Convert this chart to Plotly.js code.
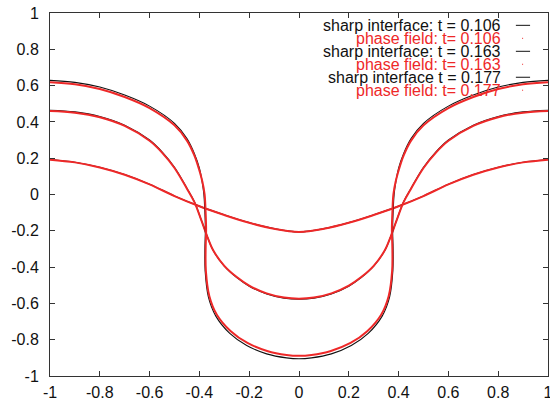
<!DOCTYPE html>
<html>
<head>
<meta charset="utf-8">
<script src="https://cdn.plot.ly/plotly-3.0.1.min.js"></script>
<style>
  body { margin: 0; padding: 0; background: #fff; }
  #graph { width: 550px; height: 404px; }
</style>
</head>
<body>
<div id="graph"></div>
<script>
// values, each curve runs left to right (x, y pairs)
var sharpX106 = [-1, -0.9, -0.8, -0.7, -0.6, -0.5, -0.4, -0.3, -0.2, -0.1, 0, 0.1, 0.2, 0.3, 0.4, 0.5, 0.6, 0.7, 0.8, 0.9, 1];
var sharpY106 = [0.193, 0.178, 0.15, 0.11, 0.057, -0.008, -0.064, -0.112, -0.155, -0.188, -0.206, -0.188, -0.155, -0.112, -0.064, -0.008, 0.057, 0.11, 0.15, 0.178, 0.193];
var phaseX106 = [-1, -0.9, -0.8, -0.7, -0.6, -0.5, -0.4, -0.3, -0.2, -0.1, 0, 0.1, 0.2, 0.3, 0.4, 0.5, 0.6, 0.7, 0.8, 0.9, 1];
var phaseY106 = [0.192, 0.177, 0.149, 0.109, 0.056, -0.009, -0.065, -0.113, -0.156, -0.189, -0.206, -0.189, -0.156, -0.113, -0.065, -0.009, 0.056, 0.109, 0.149, 0.177, 0.192];

var sharpX163 = [-1, -0.9, -0.8, -0.7, -0.6, -0.55, -0.5, -0.45, -0.42, -0.392, -0.368, -0.344, -0.3, -0.25, -0.2, -0.13, -0.06, 0,
                 0.06, 0.13, 0.2, 0.25, 0.3, 0.344, 0.368, 0.392, 0.42, 0.45, 0.5, 0.55, 0.6, 0.7, 0.8, 0.9, 1];
var sharpY163 = [0.464, 0.455, 0.43, 0.382, 0.3, 0.235, 0.15, 0.035, -0.04, -0.142, -0.233, -0.31, -0.395, -0.458, -0.505, -0.548, -0.571, -0.577,
                 -0.571, -0.548, -0.505, -0.458, -0.395, -0.31, -0.233, -0.142, -0.04, 0.035, 0.15, 0.235, 0.3, 0.382, 0.43, 0.455, 0.464];
var phaseX163 = [-1, -0.9, -0.8, -0.7, -0.6, -0.55, -0.5, -0.45, -0.42, -0.392, -0.368, -0.344, -0.3, -0.25, -0.2, -0.13, -0.06, 0,
                 0.06, 0.13, 0.2, 0.25, 0.3, 0.344, 0.368, 0.392, 0.42, 0.45, 0.5, 0.55, 0.6, 0.7, 0.8, 0.9, 1];
var phaseY163 = [0.46, 0.451, 0.426, 0.378, 0.296, 0.231, 0.146, 0.032, -0.042, -0.143, -0.233, -0.309, -0.393, -0.455, -0.502, -0.545, -0.568, -0.574,
                 -0.568, -0.545, -0.502, -0.455, -0.393, -0.309, -0.233, -0.143, -0.042, 0.032, 0.146, 0.231, 0.296, 0.378, 0.426, 0.451, 0.46];

var sharpX177 = [-1, -0.9, -0.8, -0.7, -0.6, -0.5, -0.45, -0.42, -0.4, -0.39, -0.382, -0.378, -0.376, -0.378, -0.377, -0.364, -0.334, -0.278, -0.21, -0.13, -0.05, 0,
                 0.05, 0.13, 0.21, 0.278, 0.334, 0.364, 0.377, 0.378, 0.376, 0.378, 0.382, 0.39, 0.4, 0.42, 0.45, 0.5, 0.6, 0.7, 0.8, 0.9, 1];
var sharpY177 = [0.629, 0.618, 0.592, 0.548, 0.487, 0.392, 0.308, 0.225, 0.145, 0.079, 0.0, -0.1, -0.195, -0.3, -0.42, -0.564, -0.67, -0.765, -0.832, -0.878, -0.9, -0.905,
                 -0.9, -0.878, -0.832, -0.765, -0.67, -0.564, -0.42, -0.3, -0.195, -0.1, 0.0, 0.079, 0.145, 0.225, 0.308, 0.392, 0.487, 0.548, 0.592, 0.618, 0.629];
var phaseX177 = [-1, -0.9, -0.8, -0.7, -0.6, -0.5, -0.45, -0.42, -0.4, -0.388, -0.379, -0.375, -0.373, -0.375, -0.374, -0.36, -0.33, -0.274, -0.207, -0.128, -0.05, 0,
                 0.05, 0.128, 0.207, 0.274, 0.33, 0.36, 0.374, 0.375, 0.373, 0.375, 0.379, 0.388, 0.4, 0.42, 0.45, 0.5, 0.6, 0.7, 0.8, 0.9, 1];
var phaseY177 = [0.618, 0.607, 0.581, 0.537, 0.476, 0.381, 0.297, 0.214, 0.132, 0.07, 0.0, -0.1, -0.195, -0.3, -0.42, -0.56, -0.662, -0.753, -0.818, -0.862, -0.884, -0.889,
                 -0.884, -0.862, -0.818, -0.753, -0.662, -0.56, -0.42, -0.3, -0.195, -0.1, 0.0, 0.07, 0.132, 0.214, 0.297, 0.381, 0.476, 0.537, 0.581, 0.607, 0.618];

var legendLabels = ['sharp interface: t = 0.106', 'phase field: t= 0.106',
                    'sharp interface: t = 0.163', 'phase field: t= 0.163',
                    'sharp interface t = 0.177', 'phase field: t= 0.177'];

var tickVals = [-1, -0.8, -0.6, -0.4, -0.2, 0, 0.2, 0.4, 0.6, 0.8, 1];
var tickText = ['-1', '-0.8', '-0.6', '-0.4', '-0.2', '0', '0.2', '0.4', '0.6', '0.8', '1'];

var BLACK = '#111111';
var RED = '#ee2828';
var FONT = 'Liberation Sans, Arial, Helvetica, sans-serif';

function plotGraph() {
  var curves = [
    [sharpX106, sharpY106, 'sharp'], [phaseX106, phaseY106, 'phase'],
    [sharpX163, sharpY163, 'sharp'], [phaseX163, phaseY163, 'phase'],
    [sharpX177, sharpY177, 'sharp'], [phaseX177, phaseY177, 'phase']
  ];

  var traces = curves.map(function (c, i) {
    var isSharp = c[2] === 'sharp';
    return {
      x: c[0],
      y: c[1],
      type: 'scatter',
      mode: 'lines',
      name: legendLabels[i],
      line: { color: isSharp ? BLACK : RED, width: isSharp ? 1.1 : 2, shape: 'spline', smoothing: 1 },
      hoverinfo: 'skip'
    };
  });

  // gnuplot style key: text right aligned, sample to its right
  var annotations = [];
  var shapes = [];
  var rowTop = 0.932, rowStep = 0.0715;
  legendLabels.forEach(function (lab, i) {
    var yy = rowTop - i * rowStep;
    var isSharp = i % 2 === 0;
    annotations.push({
      x: 0.819, y: yy, xref: 'x', yref: 'y',
      text: lab, showarrow: false,
      xanchor: 'right', yanchor: 'middle',
      font: { family: FONT, size: 16, color: isSharp ? BLACK : RED }
    });
    if (isSharp) {
      shapes.push({ type: 'line', xref: 'x', yref: 'y', x0: 0.871, x1: 0.928, y0: yy, y1: yy,
                    line: { color: BLACK, width: 1 } });
    } else {
      shapes.push({ type: 'line', xref: 'x', yref: 'y', x0: 0.896, x1: 0.9, y0: yy, y1: yy,
                    line: { color: RED, width: 1 } });
    }
  });

  var axisBase = {
    range: [-1, 1],
    tickvals: tickVals,
    ticktext: tickText,
    ticks: 'inside',
    ticklen: 5,
    tickwidth: 1,
    tickcolor: '#333',
    showline: true,
    linecolor: '#333',
    linewidth: 1,
    mirror: 'ticks',
    showgrid: false,
    zeroline: false,
    fixedrange: true,
    ticklabeloverflow: 'allow',
    tickfont: { family: FONT, size: 16, color: '#111' }
  };

  var layout = {
    width: 550,
    height: 404,
    margin: { l: 50, r: 2, t: 13, b: 28, pad: 0 },
    paper_bgcolor: '#fff',
    plot_bgcolor: '#fff',
    showlegend: false,
    xaxis: Object.assign({}, axisBase, { ticklabelstandoff: 2 }),
    yaxis: Object.assign({}, axisBase, { ticklabelstandoff: 7 }),
    annotations: annotations,
    shapes: shapes
  };

  Plotly.newPlot('graph', traces, layout, { displayModeBar: false, staticPlot: true });
}

plotGraph();
</script>
</body>
</html>
